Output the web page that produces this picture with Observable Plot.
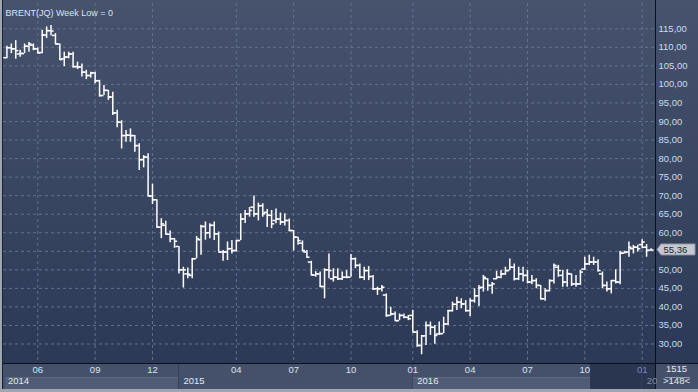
<!DOCTYPE html>
<html><head><meta charset="utf-8">
<script src="https://cdn.jsdelivr.net/npm/d3@7"></script>
<script src="https://cdn.jsdelivr.net/npm/@observablehq/plot@0.6"></script>
<style>
html,body{margin:0;padding:0;background:#44506a;}
#wrap{position:relative;width:698px;height:392px;overflow:hidden;
 background:linear-gradient(to bottom,#47536d 0px,#2c3956 363px,#45516a 363px,#45516a 389px,#9ea6b2 389px);}
#wrap svg{position:absolute;left:0;top:0;}
</style></head><body><div id="wrap"></div>
<script>
const title = "BRENT(JQ) Week Low = 0";
const opens  = [107.2,109.9,109.6,108.2,108.3,110.3,110.6,109.6,108.6,113.3,114.5,113.2,110.9,106.9,107.4,108.2,104.8,104.7,103.3,102.4,103.1,101.0,97.0,98.4,96.6,92.3,89.8,86.2,86.3,86.2,83.5,79.7,80.4,69.9,68.9,61.5,62.0,59.6,58.4,56.3,50.0,48.9,48.5,53.0,58.1,61.7,60.0,62.0,59.7,54.8,54.8,55.7,55.2,57.9,63.7,65.1,66.9,65.1,67.3,65.5,64.7,63.3,63.7,62.9,63.3,60.6,58.8,57.2,54.8,52.1,48.6,48.9,45.5,50.0,47.6,48.0,47.6,48.0,48.0,53.0,51.2,48.0,49.8,48.2,44.9,44.9,43.2,37.7,38.1,36.3,37.7,37.2,37.7,33.2,29.6,32.2,35.0,34.5,32.7,32.8,35.4,39.0,40.7,41.3,40.8,39.0,41.7,43.0,45.3,47.6,45.8,47.6,48.0,48.9,49.8,50.7,47.6,48.9,48.5,46.7,47.1,45.8,42.2,44.4,47.1,50.7,48.5,46.7,48.9,46.2,46.2,50.2,51.6,52.1,52.1,48.9,45.8,44.9,47.1,46.7,54.5,54.8,55.7,56.1,56.8,56.1,55.3];
const highs  = [110.3,110.9,111.8,109.2,110.9,111.3,110.9,109.8,114.6,115.5,115.9,113.7,110.9,108.7,108.7,108.7,106.0,105.5,103.8,103.3,103.3,101.1,99.7,98.4,97.9,93.0,90.2,87.6,88.0,86.2,84.0,80.8,81.3,73.1,68.9,63.8,63.1,60.5,58.4,56.3,50.7,50.5,53.0,59.0,62.0,62.9,62.4,62.9,60.2,55.2,57.5,57.9,57.9,65.1,66.0,66.8,69.9,68.0,67.8,66.3,66.0,66.4,65.3,65.1,63.7,60.6,58.8,57.8,55.2,52.3,49.5,49.4,50.3,54.3,50.3,50.3,49.4,49.8,54.1,53.2,51.6,50.7,50.9,48.5,45.3,45.8,43.5,39.9,38.6,38.1,38.1,37.7,39.0,33.6,32.3,35.9,35.9,35.0,35.9,37.2,39.0,41.3,42.6,42.2,41.7,42.2,44.9,45.8,48.5,47.6,46.6,49.6,49.8,50.7,52.9,51.6,50.7,50.7,49.8,48.5,47.6,45.8,44.9,47.3,51.6,51.2,49.8,50.0,48.9,48.5,49.8,53.4,53.9,53.4,52.7,49.4,46.7,47.1,50.0,55.0,55.0,57.5,56.6,56.6,58.1,56.8,55.7];
const lows   = [106.9,108.3,106.8,107.3,108.3,108.7,109.1,108.3,108.3,112.4,113.1,110.8,106.5,104.8,106.9,104.4,104.0,102.0,101.3,101.7,100.2,96.6,97.0,95.7,91.6,88.3,82.6,84.4,84.4,81.7,76.8,77.5,69.8,67.6,61.3,58.4,59.5,57.3,55.8,48.9,45.1,47.6,47.6,53.0,53.9,58.0,58.4,57.9,54.8,52.3,52.5,54.3,54.8,57.9,62.5,64.2,64.2,63.2,64.2,61.4,61.1,62.4,62.0,61.8,60.3,55.1,56.6,54.8,53.2,48.5,48.0,45.3,42.2,47.6,46.7,47.1,47.1,47.6,48.0,50.3,47.6,47.1,47.1,44.4,43.1,44.0,37.2,37.5,36.2,36.3,36.8,36.3,33.2,29.1,27.1,29.6,32.3,29.9,32.3,32.8,35.0,38.6,39.0,39.5,38.6,37.4,41.0,40.1,44.0,44.2,43.4,47.3,47.6,48.5,49.8,47.0,47.1,46.7,46.2,46.0,44.9,41.9,41.5,44.0,46.2,48.0,45.3,45.3,45.5,45.3,45.8,49.8,51.2,51.2,49.4,44.9,44.0,43.5,46.2,46.0,54.3,53.4,54.3,54.8,55.7,53.4,55.0];
const closes = [109.9,109.6,109.1,108.4,110.3,110.9,109.6,108.5,113.3,114.5,114.4,110.9,106.7,107.3,108.2,104.8,104.7,103.3,102.4,103.1,101.0,97.0,98.4,96.6,92.3,89.8,86.2,86.3,86.2,83.5,79.7,80.4,69.9,68.9,61.5,62.4,59.6,58.4,57.7,50.0,50.0,48.8,53.0,58.4,61.7,60.0,62.0,59.7,54.8,54.8,55.7,55.2,57.9,63.7,65.1,66.0,65.1,67.3,65.1,64.7,62.4,63.7,62.9,63.3,60.6,58.8,57.9,55.2,53.4,48.6,48.9,45.5,50.0,49.8,48.0,47.6,48.0,48.0,53.0,51.2,48.0,49.8,48.2,44.9,44.9,45.3,37.7,38.1,36.3,37.7,37.2,36.8,33.2,29.6,32.2,35.0,34.5,32.3,32.8,35.4,39.0,40.7,41.3,40.8,39.0,41.7,43.0,45.1,48.0,45.8,46.2,48.0,48.9,49.8,50.7,47.6,48.9,48.5,46.7,47.1,45.8,42.2,44.4,47.1,51.2,49.8,46.7,49.0,46.2,46.2,49.4,51.6,52.1,52.1,49.8,45.8,44.9,47.1,46.7,54.5,54.7,56.1,56.1,55.7,57.5,55.2,55.36];
const yTicks = [30,35,40,45,50,55,60,65,70,75,80,85,90,95,100,105,110,115];
const monthTickIdx = [7,20,33,52,65,78,92,105,118,131,144];
const monthLabels  = ["06","09","12","04","07","10","01","04","07","10","01"];
const yearStartIdx = [-1,39,92,144];
const yearLabels   = ["2014","2015","2016","20"];
const navStartIdx = 132.3;
const cornerTop = "1515", cornerBottom = ">148<";

const bars = opens.map((o,i)=>({i, open:o, high:highs[i], low:lows[i], close:closes[i]}));
const lastClose = closes[closes.length - 1];
const fmt = v => v.toFixed(2).replace(".", ",");
const FONT = "Liberation Sans, Arial, sans-serif";
const xDomain = [-0.775, 147.02];
const yLabelTicks = yTicks.filter(v => Math.abs(v - lastClose) > 1.6);

function chrome(index, scales, values, dims) {
  const x = scales.x;
  const W = dims.width, H = dims.height;
  const xL = dims.marginLeft, xR = W - dims.marginRight, yB = H - dims.marginBottom;
  const g = d3.create("svg:g");
  const nav = x(navStartIdx);
  [0,2].forEach(i => {
    const a = Math.max(x(yearStartIdx[i]), xL + 3);
    const b = Math.min(x(yearStartIdx[i+1]), nav);
    g.append("rect").attr("x", a).attr("y", yB + 14.5).attr("width", b - a).attr("height", 12)
      .attr("fill", "#505c75").attr("stroke", "#5d6983");
  });
  g.append("rect").attr("x", nav).attr("y", yB + 1).attr("width", xR - nav).attr("height", 26).attr("fill", "#2a3550");
  yearStartIdx.slice(1).forEach(v => {
    g.append("line").attr("x1", x(v)).attr("x2", x(v)).attr("y1", yB + 1).attr("y2", yB + 27)
      .attr("stroke", "#36425c");
  });
  g.append("line").attr("x1", 0).attr("x2", W).attr("y1", yB + 0.5).attr("y2", yB + 0.5).attr("stroke", "#0b101c");
  g.append("line").attr("x1", xR + 0.5).attr("x2", xR + 0.5).attr("y1", 0).attr("y2", H).attr("stroke", "#0b101c");
  g.append("rect").attr("x", 0).attr("y", 0).attr("width", 2).attr("height", H).attr("fill", "#9ea6b2");
  g.append("line").attr("x1", 2.5).attr("x2", 2.5).attr("y1", 0).attr("y2", H - 3).attr("stroke", "#1a2233");
  g.append("rect").attr("x", 0).attr("y", H - 3).attr("width", W).attr("height", 3).attr("fill", "#9ea6b2");
  g.append("line").attr("x1", xR + 10).attr("x2", xR + 35).attr("y1", yB + 14.5).attr("y2", yB + 14.5).attr("stroke", "#8e9ab0");
  return g.node();
}

function priceTag(index, scales, values, dims) {
  const xR = dims.width - dims.marginRight;
  const yy = scales.y(lastClose);
  const g = d3.create("svg:g");
  g.append("path").attr("d", `M${xR+2},${yy} L${xR+6},${yy-5.5} L${xR+40},${yy-5.5} L${xR+40},${yy+5.5} L${xR+6},${yy+5.5} Z`)
    .attr("fill", "#c4c8d0").attr("stroke", "#8d93a0");
  return g.node();
}

const chart = Plot.plot({
  width: 698, height: 392,
  marginLeft: 3, marginRight: 43, marginTop: 3, marginBottom: 29,
  style: {background: "transparent", fontFamily: FONT, fontSize: "9.5px", overflow: "visible"},
  x: {type: "linear", domain: xDomain, axis: null},
  y: {domain: [24.74, 121.82], axis: null},
  marks: [
    Plot.ruleY(yTicks, {y: d => d, stroke: "#63718e", strokeDasharray: "3,3"}),
    Plot.ruleX(monthTickIdx, {x: d => d, stroke: "#63718e", strokeDasharray: "3,3"}),
    Plot.ruleX(bars, {x: "i", y1: "low", y2: "high", stroke: "#ffffff", strokeWidth: 1.5}),
    Plot.ruleY(bars, {y: "open", x1: d => d.i - 0.7, x2: "i", stroke: "#ffffff", strokeWidth: 1.5}),
    Plot.ruleY(bars, {y: "close", x1: "i", x2: d => d.i + 0.7, stroke: "#ffffff", strokeWidth: 1.5}),
    chrome,
    Plot.axisY({anchor: "right", ticks: yLabelTicks, tickSize: 0, tickPadding: 3, tickFormat: fmt, fill: "#c8dbf2", fontSize: 9.5}),
    priceTag,
    Plot.text([lastClose], {y: d => d, text: d => fmt(d), frameAnchor: "right", dx: 8, textAnchor: "start",
      fill: "#1c2536", fontSize: 9.5}),
    Plot.text([cornerTop], {text: d => d, frameAnchor: "bottom-right", dx: 21, dy: 8.5, textAnchor: "middle",
      fill: "#e2e9f4", fontSize: 9.5}),
    Plot.text([cornerBottom], {text: d => d, frameAnchor: "bottom-right", dx: 21, dy: 20.5, textAnchor: "middle",
      fill: "#e2e9f4", fontSize: 9.5}),
    Plot.text(monthTickIdx, {x: d => d, text: (d, i) => monthLabels[i], frameAnchor: "bottom", dy: 9,
      fill: (d, i) => i === monthTickIdx.length - 1 ? "#7e8ba2" : "#d6e3f5", fontSize: 9.5}),
    Plot.text(yearStartIdx, {x: d => Math.max(d, xDomain[0]), text: (d, i) => yearLabels[i], frameAnchor: "bottom",
      dy: 20.5, dx: 4.5, textAnchor: "start",
      fill: (d, i) => i === yearStartIdx.length - 1 ? "#7e8ba2" : "#e0e8f4", fontSize: 9.5}),
    Plot.text([title], {frameAnchor: "top-left", dx: 2, dy: 6, textAnchor: "start", fill: "#d6e3f5", fontSize: 9})
  ]
});
document.getElementById("wrap").appendChild(chart);
</script></body></html>
